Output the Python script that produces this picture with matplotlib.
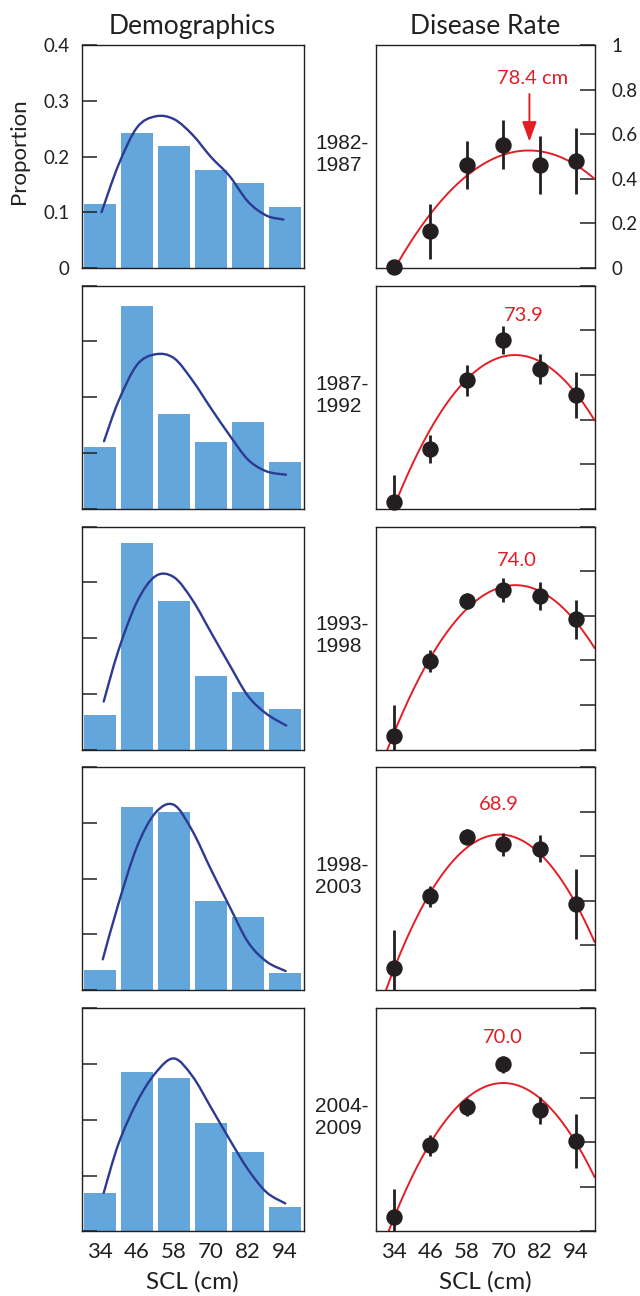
import numpy as np
import matplotlib
matplotlib.use("Agg")
import matplotlib.pyplot as plt
from matplotlib.path import Path
from matplotlib.patches import PathPatch

# ---------------- data ----------------
scl_bins = [34, 46, 58, 70, 82, 94]
periods = ["1982-\n1987", "1987-\n1992", "1993-\n1998", "1998-\n2003", "2004-\n2009"]

prop_1982 = [0.114, 0.243, 0.218, 0.175, 0.153, 0.110]
prop_1987 = [0.111, 0.364, 0.169, 0.120, 0.156, 0.084]
prop_1993 = [0.061, 0.370, 0.266, 0.131, 0.104, 0.072]
prop_1998 = [0.036, 0.328, 0.320, 0.160, 0.131, 0.031]
prop_2004 = [0.068, 0.286, 0.275, 0.194, 0.142, 0.044]
proportions = [prop_1982, prop_1987, prop_1993, prop_1998, prop_2004]

# smooth density line
dens_x_1982 = [34.5, 40, 46, 52, 58, 64, 70, 76, 82, 88, 93.5]
dens_y_1982 = [0.100, 0.185, 0.252, 0.272, 0.267, 0.239, 0.199, 0.165, 0.119, 0.094, 0.087]
dens_x_1987 = [35.3, 40, 46, 52, 58, 64, 70, 76, 82, 88, 94.3]
dens_y_1987 = [0.121, 0.193, 0.258, 0.277, 0.270, 0.230, 0.180, 0.132, 0.088, 0.067, 0.061]
dens_x_1993 = [35.2, 40, 46, 52, 58, 64, 70, 76, 82, 88, 94.4]
dens_y_1993 = [0.086, 0.178, 0.265, 0.311, 0.309, 0.268, 0.210, 0.152, 0.096, 0.064, 0.043]
dens_x_1998 = [34.9, 40, 46, 52, 58, 64, 70, 76, 82, 88, 94.2]
dens_y_1998 = [0.055, 0.155, 0.257, 0.318, 0.332, 0.285, 0.216, 0.150, 0.086, 0.051, 0.034]
dens_x_2004 = [35.2, 40, 46, 52, 58, 64, 70, 76, 82, 88, 94.1]
dens_y_2004 = [0.069, 0.157, 0.232, 0.284, 0.310, 0.278, 0.222, 0.165, 0.111, 0.070, 0.050]
dens_x = [dens_x_1982, dens_x_1987, dens_x_1993, dens_x_1998, dens_x_2004]
dens_y = [dens_y_1982, dens_y_1987, dens_y_1993, dens_y_1998, dens_y_2004]

rate_1982 = [0.005, 0.164, 0.463, 0.552, 0.460, 0.480]
rate_1987 = [0.030, 0.269, 0.576, 0.756, 0.626, 0.509]
rate_1993 = [0.060, 0.396, 0.667, 0.716, 0.688, 0.583]
rate_1998 = [0.099, 0.420, 0.687, 0.654, 0.633, 0.384]
rate_2004 = [0.064, 0.386, 0.557, 0.749, 0.542, 0.406]
rates = [rate_1982, rate_1987, rate_1993, rate_1998, rate_2004]

err_1982 = [0.000, 0.124, 0.108, 0.110, 0.130, 0.147]
err_1987 = [0.120, 0.062, 0.070, 0.063, 0.067, 0.103]
err_1993 = [0.140, 0.048, 0.035, 0.053, 0.061, 0.089]
err_1998 = [0.170, 0.048, 0.034, 0.052, 0.060, 0.157]
err_2004 = [0.125, 0.048, 0.042, 0.037, 0.060, 0.122]
rate_errs = [err_1982, err_1987, err_1993, err_1998, err_2004]

# quadratic fit: vertex (peak SCL, peak rate) and curvature
fit_peak_x = [78.4, 73.9, 74.0, 68.9, 70.0]
fit_peak_y = [0.527, 0.689, 0.737, 0.697, 0.665]
fit_curv = [0.000272, 0.000429, 0.000416, 0.000497, 0.000468]

left_yticks = [0, 0.1, 0.2, 0.3, 0.4]
left_yticklabels = ["0", "0.1", "0.2", "0.3", "0.4"]
right_yticks = [0, 0.2, 0.4, 0.6, 0.8, 1.0]
right_yticklabels = ["0", "0.2", "0.4", "0.6", "0.8", "1"]

# ---------------- layout / style ----------------
W, H = 640, 1296
BAR_C = "#63a6dc"
LINE_C = "#2c3a94"
RED = "#e41e26"
INK = "#231f20"
SANS = ["Lato", "DejaVu Sans"]
ARIAL = ["Liberation Sans", "DejaVu Sans"]

fig = plt.figure(figsize=(6.4, 12.96), dpi=100)


def fx(px):
    return px / W


def fy(py):
    return 1 - py / H


def smooth_path(xs, ys):
    P = np.column_stack([xs, ys]).astype(float)
    ext = np.vstack([P[0], P, P[-1]])
    verts = [P[0]]
    codes = [Path.MOVETO]
    for k in range(len(P) - 1):
        p0, p1, p2, p3 = ext[k], ext[k + 1], ext[k + 2], ext[k + 3]
        c1 = p1 + (p2 - p0) / 6.0
        c2 = p2 - (p3 - p1) / 6.0
        verts += [c1, c2, p2]
        codes += [Path.CURVE4] * 3
    return Path(verts, codes)


row_tops = [45, 285.7, 526.5, 767, 1008.3]
ph = 223
label_pos = [(79.5, 0.85), (76.8, 0.868), (74.5, 0.848), (68.7, 0.834), (69.9, 0.868)]

for i in range(5):
    bottom = fy(row_tops[i] + ph)
    axL = fig.add_axes([fx(81.5), bottom, 222 / W, ph / H])
    axR = fig.add_axes([fx(375.5), bottom, 219 / W, ph / H])

    # ---- demographics ----
    axL.bar(scl_bins, proportions[i], width=10.7, color=BAR_C, linewidth=0)
    axL.add_patch(PathPatch(smooth_path(dens_x[i], dens_y[i]), facecolor="none",
                            edgecolor=LINE_C, lw=1.7, capstyle="round"))
    axL.set_xlim(28, 100)
    axL.set_ylim(0, 0.4)
    axL.set_yticks(left_yticks)
    axL.set_xticks(scl_bins)
    axL.tick_params(axis="y", direction="in", length=11, width=1.1, color=INK,
                    pad=8.5, labelsize=13.5, labelcolor=INK, labelleft=(i == 0))
    axL.tick_params(axis="x", length=0, pad=8, labelsize=16, labelcolor=INK,
                    labelbottom=(i == 4))
    if i == 0:
        axL.set_yticklabels(left_yticklabels, fontfamily=SANS)
    if i == 4:
        axL.set_xticklabels([str(v) for v in scl_bins], fontfamily=SANS)

    # ---- disease rate ----
    xs = np.linspace(28, 100, 300)
    axR.plot(xs, fit_peak_y[i] - fit_curv[i] * (xs - fit_peak_x[i]) ** 2,
             color=RED, lw=1.4, zorder=2)
    axR.errorbar(scl_bins, rates[i], yerr=rate_errs[i], fmt="none", ecolor=INK,
                 elinewidth=2.0, capsize=0, zorder=3)
    axR.plot(scl_bins, rates[i], "o", color=INK, ms=10.8, mec=INK, zorder=4,
             clip_on=False)
    axR.set_xlim(28, 100)
    axR.set_ylim(0, 1)
    axR.yaxis.tick_right()
    axR.set_yticks(right_yticks)
    axR.set_xticks(scl_bins)
    axR.tick_params(axis="y", direction="in", length=10.7, width=1.1, color=INK,
                    pad=12.5, labelsize=13.5, labelcolor=INK, labelright=(i == 0),
                    labelleft=False, left=False)
    axR.tick_params(axis="x", length=0, pad=8, labelsize=16, labelcolor=INK,
                    labelbottom=(i == 4))
    if i == 0:
        axR.set_yticklabels(right_yticklabels, fontfamily=SANS)
    if i == 4:
        axR.set_xticklabels([str(v) for v in scl_bins], fontfamily=SANS)

    txt = f"{fit_peak_x[i]:.1f}" + (" cm" if i == 0 else "")
    lx, ly = label_pos[i]
    axR.text(lx, ly, txt, color=RED, fontsize=14.5, family=SANS,
             ha="center", va="center")
    if i == 0:
        axR.annotate("", xy=(fit_peak_x[i] + 0.2, 0.567), xytext=(fit_peak_x[i] + 0.2, 0.78),
                     arrowprops=dict(arrowstyle="-|>,head_length=0.6,head_width=0.22",
                                     color=RED, lw=1.4, mutation_scale=20,
                                     shrinkA=0, shrinkB=0))

    for ax in (axL, axR):
        for s in ax.spines.values():
            s.set_linewidth(1.0)
            s.set_color(INK)

    # period label
    fig.text(fx(315), fy(row_tops[i] + ph / 2 - 2), periods[i], family=ARIAL,
             fontsize=15, color=INK, ha="left", va="center", linespacing=1.2)

# headers and axis labels
fig.text(fx(192.5), fy(34), "Demographics", family=SANS, fontsize=19,
         color=INK, ha="center", va="baseline")
fig.text(fx(485), fy(34), "Disease Rate", family=SANS, fontsize=19,
         color=INK, ha="center", va="baseline")
fig.text(fx(19), fy(151.5), "Proportion", family=SANS, fontsize=16,
         color=INK, ha="center", va="center", rotation=90)
fig.text(fx(192.5), fy(1289), "SCL (cm)", family=SANS, fontsize=17.5,
         color=INK, ha="center", va="baseline")
fig.text(fx(485), fy(1289), "SCL (cm)", family=SANS, fontsize=17.5,
         color=INK, ha="center", va="baseline")

fig.savefig("out.png", dpi=100)
